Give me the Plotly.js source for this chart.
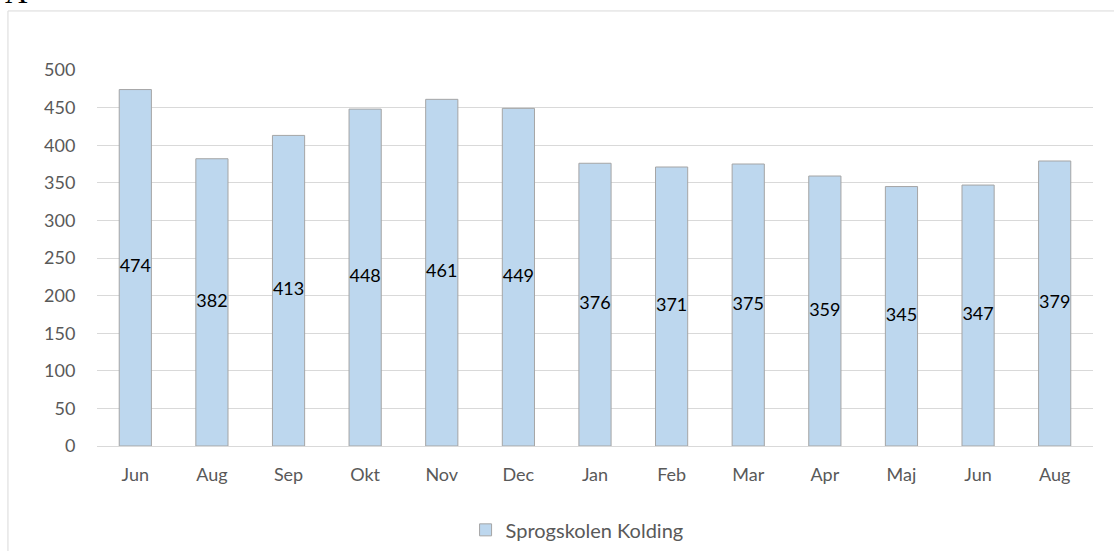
<!DOCTYPE html>
<html>
<head>
<meta charset="utf-8">
<script src="https://cdn.plot.ly/plotly-3.0.1.min.js"></script>
<style>
  body { margin: 0; background: #fff; }
  #chart { width: 1114px; height: 551px; }
</style>
</head>
<body>
<div id="chart"></div>
<script>
// maaneder og antal kursister
const months = ['Jun', 'Aug', 'Sep', 'Okt', 'Nov', 'Dec', 'Jan', 'Feb', 'Mar', 'Apr', 'Maj', 'Jun', 'Aug'];
const students = [474, 382, 413, 448, 461, 449, 376, 371, 375, 359, 345, 347, 379];
const seriesName = 'Sprogskolen Kolding';
const yTicks = [0, 50, 100, 150, 200, 250, 300, 350, 400, 450, 500];

// samme maaned optraeder to gange, saa x er en position
const pos = months.map((m, i) => i);

const bars = {
  type: 'bar',
  x: pos,
  y: students,
  name: seriesName,
  marker: {
    color: '#bdd7ee',
    line: { color: '#a5a5a5', width: 1 }
  },
  hoverinfo: 'y'
};

// etiketter midt i soejlen (bredere end soejlen, derfor eget spor)
const labels = {
  type: 'scatter',
  mode: 'text',
  x: pos,
  y: students.map(v => v / 2),
  text: students.map(String),
  textposition: 'middle center',
  textfont: { color: '#000', size: 18, family: 'Lato, sans-serif' },
  showlegend: false,
  hoverinfo: 'skip'
};

const layout = {
  width: 1114,
  height: 551,
  paper_bgcolor: '#fff',
  plot_bgcolor: '#fff',
  font: { family: 'Lato, sans-serif', color: '#595959', size: 18 },
  margin: { l: 97, r: 21, t: 70, b: 105, autoexpand: false },
  bargap: 0.58,
  showlegend: true,
  legend: {
    orientation: 'h',
    x: 0.482, xanchor: 'center',
    y: -0.223, yanchor: 'middle',
    font: { size: 20, color: '#595959' }
  },
  xaxis: {
    tickvals: pos,
    ticktext: months,
    range: [-0.5, months.length - 0.5],
    showgrid: false,
    zeroline: false,
    showline: false,
    ticks: 'outside',
    ticklen: 12,
    tickcolor: 'rgba(0,0,0,0)'
  },
  yaxis: {
    range: [0, 500],
    tickvals: yTicks,
    gridcolor: '#d9d9d9',
    gridwidth: 1,
    zeroline: true,
    zerolinecolor: '#d9d9d9',
    zerolinewidth: 1,
    showline: false,
    ticks: 'outside',
    ticklen: 17,
    tickcolor: 'rgba(0,0,0,0)'
  },
  shapes: [{
    type: 'rect',
    xref: 'paper', yref: 'paper',
    x0: -0.0894, x1: 1.1,
    y0: -0.5, y1: 1.157,
    line: { color: '#d9d9d9', width: 1 },
    fillcolor: 'rgba(0,0,0,0)',
    layer: 'below'
  }],
  annotations: [{
    text: 'A',
    xref: 'paper', yref: 'paper',
    x: -0.0945, xanchor: 'left',
    y: 1.154, yanchor: 'bottom',
    showarrow: false,
    font: { family: 'Liberation Serif, serif', size: 31, color: '#000' }
  }]
};

Plotly.newPlot('chart', [bars, labels], layout, { displayModeBar: false, staticPlot: true });
</script>
</body>
</html>
